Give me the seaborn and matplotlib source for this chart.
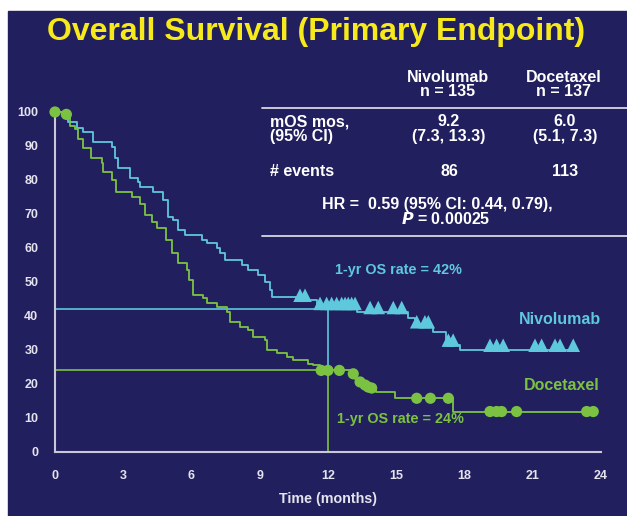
import numpy as np
import pandas as pd
import seaborn as sns
import matplotlib.pyplot as plt
from matplotlib.patches import Rectangle

# Kaplan-Meier steps (months, % alive)
nivo_time = [0, 0.55, 0.95, 1.25, 1.69, 2.49, 2.64, 2.78, 3.30, 3.66, 3.74, 4.32, 4.76,
             4.98, 5.2, 5.42, 5.71, 6.45, 6.67, 7.1, 7.25, 7.47, 8.2, 8.5, 8.94, 9.23,
             9.45, 9.52, 10.6, 11.5, 13.26, 15.53, 15.82, 16.63, 17.2, 17.8, 22.8]
nivo_surv = [100, 97, 95.3, 94, 91.1, 89.8, 86.4, 83.4, 80.5, 79.5, 78, 76.6, 74.1,
             69.2, 68.2, 65.3, 63.8, 62.4, 61.4, 59.9, 58.4, 56.5, 55, 53.5, 52, 50.1,
             47.6, 45.7, 44.7, 42.3, 41.1, 39.3, 36.9, 35.4, 31.5, 30, 30]
nivo_cens = [10.77, 10.99, 11.65, 11.94, 12.16, 12.38, 12.6, 12.75, 12.89, 13.04, 13.19,
             13.85, 14.21, 14.87, 15.24, 15.9, 16.26, 16.41, 17.29, 17.5,
             19.12, 19.41, 19.7, 21.1, 21.39, 21.98, 22.2, 22.78]

doce_time = [0, 0.3, 0.65, 0.9, 1.0, 1.25, 1.6, 2.05, 2.1, 2.5, 2.7, 3.4, 3.75, 3.95,
             4.25, 4.5, 4.9, 5.15, 5.4, 5.8, 5.9, 6.07, 6.5, 6.7, 7.1, 7.55, 7.69, 8.13,
             8.5, 8.72, 9.23, 9.3, 9.74, 10.18, 10.48, 11.1, 11.35, 11.65, 13.0, 13.2,
             13.4, 13.55, 13.7, 13.85, 14.1, 14.95, 17.5, 23.66]
doce_surv = [100, 99.3, 96, 95, 92, 89.4, 86.5, 85, 82.4, 80, 76.5, 75, 73, 69.7,
             67.6, 65.8, 62.4, 58.5, 55.6, 53.5, 50.6, 46.2, 45.3, 43.8, 42.7, 41.3, 38.3, 36.9,
             35.9, 33.9, 32.9, 30, 29, 28, 27.1, 26, 25.6, 24, 23, 21.5,
             20.6, 19.7, 19.1, 18.8, 17.7, 15.8, 11.9, 11.9]
doce_cens = [0, 0.5, 11.7, 12.0, 12.5, 13.11, 13.41, 13.63, 13.77, 13.92,
             15.9, 16.5, 17.29, 19.12, 19.41, 19.63, 20.29, 23.37, 23.66]

one_yr = 12
nivo_1yr = 42
doce_1yr = 24


def surv_at(times, surv, t):
    idx = np.searchsorted(times, t, side='right') - 1
    return np.array(surv)[idx]


navy = '#221f5e'
blue = '#5ec8dc'
green = '#7cc242'
light = '#e4e4ee'

sns.set_style('white')
plt.rcParams['font.family'] = ['Liberation Sans', 'DejaVu Sans']
plt.rcParams['font.weight'] = 'bold'

W, H = 627, 516
fig = plt.figure(figsize=(W / 100, H / 100), dpi=100, facecolor='white')
fig.patches.append(Rectangle((8 / W, 0), 1 - 8 / W, 1 - 11 / H, transform=fig.transFigure,
                             color=navy, zorder=-10))


def ftext(x, y, s, **kw):
    fig.text(x / W, 1 - y / H, s, **kw)


ax = fig.add_axes([55 / W, 1 - 452 / H, 546 / W, 340 / H])
ax.set_facecolor('none')

# 1-yr reference lines
ax.plot([0, one_yr], [nivo_1yr, nivo_1yr], color=blue, lw=1.2)
ax.plot([one_yr, one_yr], [nivo_1yr, doce_1yr], color=blue, lw=1.2)
ax.plot([0, one_yr], [doce_1yr, doce_1yr], color=green, lw=1.2)
ax.plot([one_yr, one_yr], [doce_1yr, 0], color=green, lw=1.2)

nivo = pd.DataFrame({'t': nivo_time, 's': nivo_surv})
doce = pd.DataFrame({'t': doce_time, 's': doce_surv})
sns.lineplot(data=nivo, x='t', y='s', drawstyle='steps-post', estimator=None,
             color=blue, lw=1.3, ax=ax, clip_on=False)
sns.lineplot(data=doce, x='t', y='s', drawstyle='steps-post', estimator=None,
             color=green, lw=1.3, ax=ax, clip_on=False)

sns.scatterplot(x=nivo_cens, y=surv_at(nivo_time, nivo_surv, nivo_cens) + 1.4,
                marker='^', s=95, color=blue, edgecolor='none', ax=ax, clip_on=False, zorder=5)
sns.scatterplot(x=doce_cens, y=surv_at(doce_time, doce_surv, doce_cens),
                marker='o', s=65, color=green, edgecolor='none', ax=ax, clip_on=False, zorder=5)

ax.set_xlim(0, 24)
ax.set_ylim(0, 100)
ax.set_xticks(range(0, 25, 3))
ax.set_yticks(range(0, 101, 10))
for side in ['top', 'right']:
    ax.spines[side].set_visible(False)
for side in ['left', 'bottom']:
    ax.spines[side].set_color('#c8c8d8')
    ax.spines[side].set_linewidth(1.5)
ax.tick_params(axis='x', direction='out', length=9, width=1.5, color='#c8c8d8',
               labelcolor=light, labelsize=9, pad=4)
ax.tick_params(axis='y', direction='out', length=7, width=1.5, color='#c8c8d8',
               labelcolor=light, labelsize=9, pad=5)
for lab in ax.get_xticklabels() + ax.get_yticklabels():
    lab.set_fontweight('bold')
ax.set_xlabel('')
ax.set_ylabel('')

# title
ftext(316, 32, 'Overall Survival (Primary Endpoint)', color='#f7ea1a', fontsize=23,
      fontweight='bold', ha='center', va='center')

# summary table
tk = dict(color='white', fontsize=11.5, fontweight='bold', va='center')
ftext(448, 77, 'Nivolumab', ha='center', **tk)
ftext(448, 91, 'n = 135', ha='center', **tk)
ftext(564, 77, 'Docetaxel', ha='center', **tk)
ftext(564, 91, 'n = 137', ha='center', **tk)
fig.add_artist(plt.Line2D([262 / W, 1], [1 - 108 / H, 1 - 108 / H], color='#d8d8e4', lw=1.3))
ftext(270, 122, 'mOS mos,', ha='left', **tk)
ftext(270, 136, '(95% CI)', ha='left', **tk)
ftext(449, 122, '9.2', ha='center', **tk)
ftext(449, 136, '(7.3, 13.3)', ha='center', **tk)
ftext(565, 122, '6.0', ha='center', **tk)
ftext(565, 136, '(5.1, 7.3)', ha='center', **tk)
ftext(270, 172, '# events', ha='left', **tk)
ftext(449, 172, '86', ha='center', **tk)
ftext(565, 172, '113', ha='center', **tk)
ftext(322, 204, 'HR =  0.59 (95% CI: 0.44, 0.79),', ha='left', **tk)
ftext(446, 219, '$\\mathit{P}$ = 0.00025', ha='center', **tk)
fig.add_artist(plt.Line2D([262 / W, 1], [1 - 236 / H, 1 - 236 / H], color='#d8d8e4', lw=1.3))

# annotations
ftext(398, 270, '1-yr OS rate = 42%', color=blue, fontsize=10.4, fontweight='bold',
      ha='center', va='center')
ftext(560, 320, 'Nivolumab', color=blue, fontsize=11.5, fontweight='bold',
      ha='center', va='center')
ftext(562, 386, 'Docetaxel', color=green, fontsize=11.5, fontweight='bold',
      ha='center', va='center')
ftext(400, 419, '1-yr OS rate = 24%', color=green, fontsize=10.4, fontweight='bold',
      ha='center', va='center')
ftext(328, 499, 'Time (months)', color=light, fontsize=10.3, fontweight='bold',
      ha='center', va='center')

fig.savefig('out.png', dpi=100, facecolor='white')
